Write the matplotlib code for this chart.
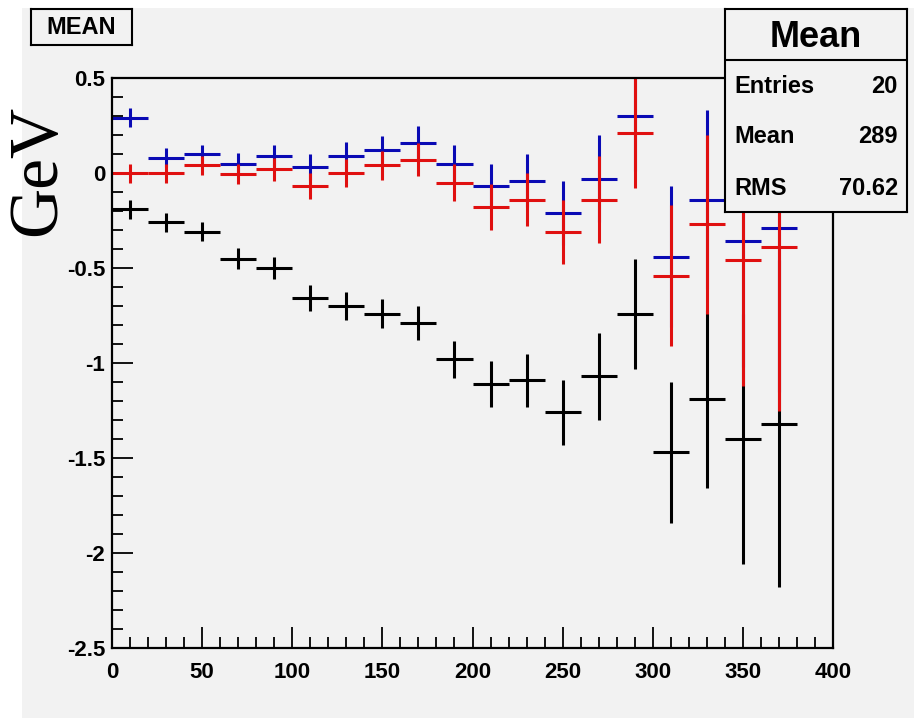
"""ROOT-style profile: mean shift (GeV) per bin for three samples."""
import matplotlib
matplotlib.use("Agg")
import matplotlib.pyplot as plt
from matplotlib.patches import Rectangle
from matplotlib.ticker import MultipleLocator

# bin centres (bin width 20)
bin_centers = [10, 30, 50, 70, 90, 110, 130, 150, 170, 190,
               210, 230, 250, 270, 290, 310, 330, 350, 370]
bin_halfwidth = 10

black_mean = [-0.19, -0.26, -0.31, -0.45, -0.50, -0.66, -0.70, -0.74, -0.79, -0.98,
              -1.11, -1.09, -1.26, -1.07, -0.74, -1.47, -1.19, -1.40, -1.32]
blue_mean = [0.29, 0.08, 0.10, 0.05, 0.09, 0.03, 0.09, 0.12, 0.16, 0.05,
             -0.07, -0.04, -0.21, -0.03, 0.30, -0.44, -0.14, -0.36, -0.29]
red_mean = [0.0, 0.0, 0.04, -0.005, 0.02, -0.07, 0.0, 0.04, 0.07, -0.05,
            -0.18, -0.14, -0.31, -0.14, 0.21, -0.54, -0.27, -0.46, -0.39]
mean_err = [0.05, 0.05, 0.05, 0.055, 0.06, 0.068, 0.073, 0.075, 0.088, 0.098,
            0.12, 0.14, 0.17, 0.23, 0.29, 0.37, 0.47, 0.66, 0.86]

stats_rows = [("Entries", "20"), ("Mean", "289"), ("RMS", "70.62")]

GREY = "#f2f2f2"
BOLD = dict(family="Liberation Sans", weight="bold")

fig = plt.figure(figsize=(9.14, 7.22), dpi=100, facecolor="white")
fig.patches.append(Rectangle((22 / 914, 4 / 722), 1, 1 - 12 / 722,
                             transform=fig.transFigure, facecolor=GREY,
                             edgecolor="none", zorder=-10))

ax = fig.add_axes([112 / 914, 1 - 648 / 722, (833 - 112) / 914, (648 - 78) / 722])
ax.set_facecolor(GREY)

for y, col in [(black_mean, "black"), (blue_mean, "#0a0ab4"), (red_mean, "#e01010")]:
    ax.errorbar(bin_centers, y, yerr=mean_err, xerr=bin_halfwidth, fmt="none",
                ecolor=col, elinewidth=2.2, capsize=0)

ax.set_xlim(0, 400)
ax.set_ylim(-2.5, 0.5)
ax.xaxis.set_major_locator(MultipleLocator(50))
ax.xaxis.set_minor_locator(MultipleLocator(10))
ax.yaxis.set_major_locator(MultipleLocator(0.5))
ax.yaxis.set_minor_locator(MultipleLocator(0.1))
ax.tick_params(which="both", direction="in", top=False, right=False, width=1.3)
ax.tick_params(which="major", length=15)
ax.tick_params(which="minor", length=8)
ax.tick_params(axis="x", pad=10)
ax.tick_params(axis="y", pad=5)
ax.set_xticklabels([f"{v:g}" for v in ax.get_xticks()])
ax.set_yticklabels([f"{v:g}" for v in ax.get_yticks()])
for lab in ax.get_xticklabels() + ax.get_yticklabels():
    lab.set_fontproperties(BOLD)
    lab.set_fontsize(16)
for sp in ax.spines.values():
    sp.set_linewidth(1.6)

fig.text(38 / 914, 1 - 170 / 722, "GeV", rotation=90, ha="center", va="center",
         family="Liberation Serif", fontsize=50)

# title box
tax = fig.add_axes([30.7 / 914, 1 - 45 / 722, 101 / 914, 35.7 / 722])
tax.set_facecolor(GREY)
tax.set_xticks([])
tax.set_yticks([])
for sp in tax.spines.values():
    sp.set_linewidth(1.5)
tax.text(0.5, 0.5, "MEAN", ha="center", va="center", fontsize=17, **BOLD)

# stats box
sax = fig.add_axes([725 / 914, 1 - 212 / 722, 182 / 914, 203 / 722])
sax.set_facecolor(GREY)
sax.set_xticks([])
sax.set_yticks([])
sax.set_xlim(0, 1)
sax.set_ylim(0, 1)
for sp in sax.spines.values():
    sp.set_linewidth(1.5)
sax.axhline(0.749, color="black", lw=1.5)
sax.text(0.5, 0.86, "Mean", ha="center", va="center", fontsize=26, **BOLD)
for (name, val), yy in zip(stats_rows, [0.62, 0.374, 0.117]):
    sax.text(0.05, yy, name, ha="left", va="center", fontsize=17, **BOLD)
    sax.text(0.95, yy, val, ha="right", va="center", fontsize=17, **BOLD)

fig.savefig("out.png", dpi=100, facecolor=fig.get_facecolor())
